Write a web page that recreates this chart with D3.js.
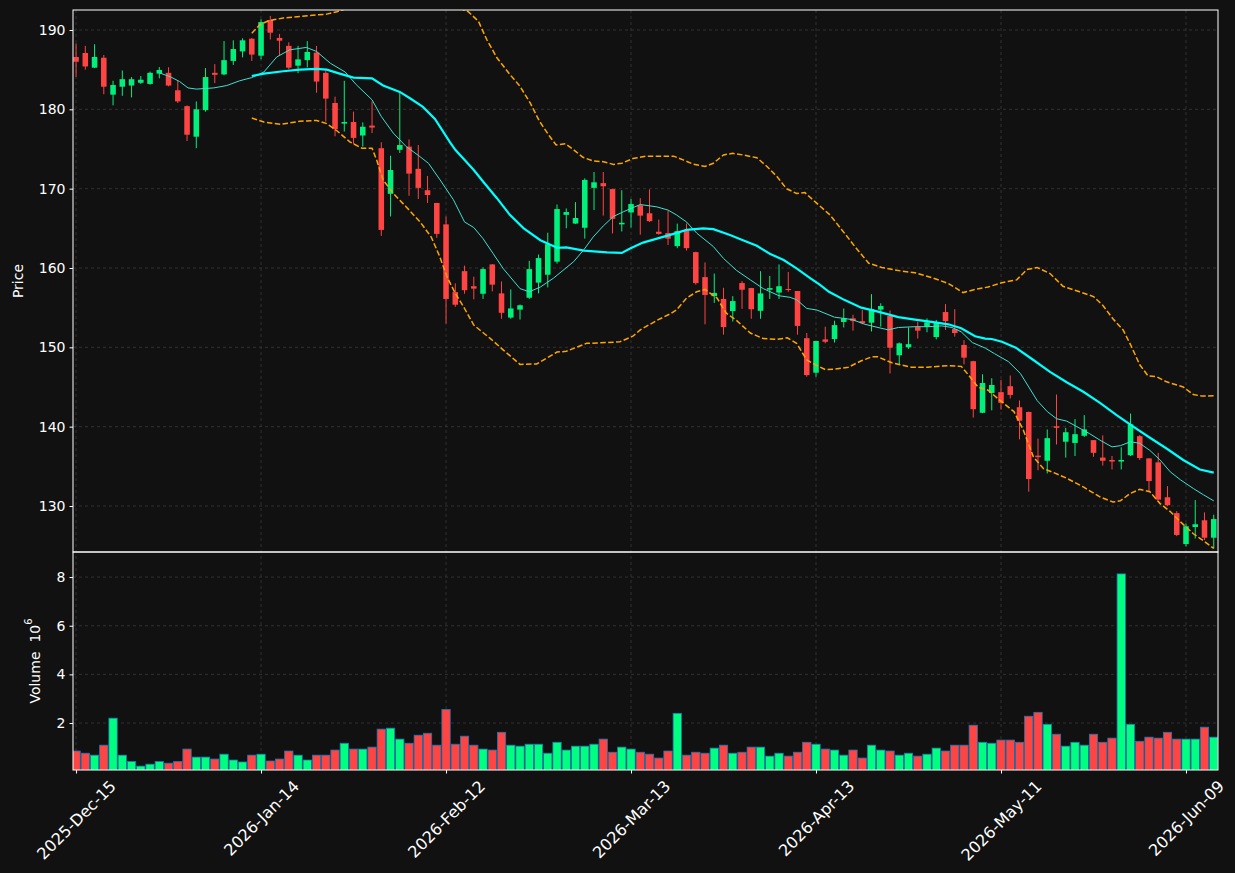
<!DOCTYPE html>
<html>
<head>
<meta charset="utf-8">
<script src="https://cdn.jsdelivr.net/npm/d3@7"></script>
<style>
  html, body { margin: 0; padding: 0; background: #111111; }
  svg text { font-family: "DejaVu Sans", sans-serif; }
</style>
</head>
<body>
<div id="chart"></div>
<script>
const width = 1235
const height = 873

// trading day index of each tick and its label
const tickIdx = [0, 20, 40, 60, 80, 100, 120]
const tickLabels = ["2025-Dec-15", "2026-Jan-14", "2026-Feb-12", "2026-Mar-13", "2026-Apr-13", "2026-May-11", "2026-Jun-09"]

const priceTicks = [130, 140, 150, 160, 170, 180, 190]
const volumeTicks = [2, 4, 6, 8]

// OHLC, one value per trading day (124 days)
const opens = [186.6,187.1,185.25,186.5,181.85,182.85,183.0,183.35,183.2,184.5,
  184.6,182.4,180.4,176.55,179.9,184.6,184.4,186.1,187.3,188.9,
  186.76,191.26,189.0,188.0,185.5,186.2,187.15,184.6,180.8,178.2,
  178.4,176.7,177.95,175.1,169.35,174.9,175.3,172.5,169.8,168.2,
  165.5,156.96,159.6,157.7,156.75,160.45,156.8,153.75,154.75,156.25,
  158.15,159.15,160.8,166.7,165.6,165.07,170.1,170.7,169.95,165.5,
  167.0,167.9,166.9,164.57,164.4,162.76,164.74,162.0,158.85,156.45,
  156.1,154.57,158.1,157.47,154.6,157.26,156.9,157.35,157.1,151.15,
  146.8,151.0,151.05,153.2,153.65,153.3,153.1,154.75,153.95,149.0,
  150.0,152.55,152.6,151.3,154.45,152.3,150.3,148.25,141.75,144.25,
  144.35,145.1,142.45,141.85,136.35,135.7,140.05,138.1,137.95,138.85,
  138.3,136.1,135.8,135.6,136.4,138.8,136.0,135.5,131.1,129.1,
  125.2,127.35,128.2,126.0]
const highs = [188.3,188.0,188.2,186.85,183.6,184.9,184.07,184.2,184.75,185.33,
  185.3,183.6,180.5,181.0,185.2,185.7,188.6,188.7,188.95,189.0,
  191.35,191.77,189.5,188.45,188.0,188.6,188.0,184.95,181.6,183.6,
  179.7,178.35,181.0,175.85,174.15,182.1,176.2,175.5,171.6,168.2,
  166.5,158.06,160.3,158.9,160.07,160.5,158.3,157.3,155.4,160.9,
  161.7,164.45,168.0,167.5,168.3,171.3,172.1,172.1,170.0,169.8,
  168.7,168.8,169.9,166.1,167.2,165.6,165.6,162.05,160.7,159.3,
  157.5,156.45,158.35,157.5,159.6,159.0,160.45,159.5,157.1,151.8,
  150.8,152.6,153.35,154.9,154.1,154.7,156.7,155.55,154.65,150.6,
  152.5,153.25,153.65,153.45,155.45,154.8,150.9,148.3,146.6,146.1,
  145.9,146.45,143.3,141.9,138.5,139.65,144.05,139.85,140.95,141.45,
  138.3,138.9,136.3,137.4,141.65,138.95,136.0,136.7,132.5,129.35,
  127.8,130.75,129.2,128.9]
const lows = [184.1,185.0,185.2,181.9,180.5,181.7,181.5,183.2,183.1,183.9,
  182.9,180.8,176.0,175.1,179.7,183.3,184.3,185.6,186.55,186.1,
  186.3,188.8,186.85,185.05,184.55,185.3,182.1,178.45,176.6,177.2,
  175.6,175.3,177.0,164.05,166.5,174.5,169.1,168.7,168.2,163.8,
  153.0,155.1,156.75,156.05,156.1,157.05,153.6,153.6,153.5,156.1,
  156.8,157.55,160.55,165.0,165.55,163.7,167.3,166.6,164.35,164.6,
  165.1,164.2,165.8,164.2,162.9,162.5,162.2,157.9,152.9,155.6,
  151.6,153.25,154.85,153.6,153.6,156.1,156.1,157.0,151.6,146.3,
  146.3,150.5,150.6,152.5,152.1,152.9,152.0,152.6,146.7,147.75,
  149.8,151.1,151.9,151.0,152.2,151.35,147.85,141.15,141.7,142.05,
  142.15,143.55,138.4,131.8,134.5,134.1,137.75,136.1,136.3,138.7,
  136.2,135.1,134.6,134.6,136.3,135.8,131.8,130.8,130.0,126.2,
  124.9,125.9,125.7,124.65]
const closes = [186.0,185.4,186.6,182.85,183.06,183.8,183.8,183.73,184.6,184.96,
  183.0,181.0,176.8,180.0,184.07,184.35,186.2,187.6,188.7,186.9,
  191.0,189.66,188.65,185.25,186.3,187.23,183.5,181.35,177.5,178.4,
  176.4,177.8,177.7,164.8,172.35,175.5,171.9,170.1,169.2,164.3,
  156.1,155.37,157.2,157.4,159.86,157.9,154.35,154.9,155.3,159.86,
  161.25,163.0,167.43,167.05,166.3,171.1,170.8,170.3,166.2,165.7,
  168.06,166.6,165.9,164.3,163.7,164.65,162.5,158.1,156.6,156.85,
  152.55,155.83,157.26,154.8,156.8,157.47,157.7,157.25,152.7,146.5,
  150.8,150.7,152.8,153.65,153.3,153.05,154.8,155.2,149.95,150.5,
  150.4,152.1,153.15,153.1,153.3,151.8,148.7,142.2,145.5,145.25,
  143.0,144.0,140.75,133.4,136.15,138.55,139.85,139.3,139.05,139.65,
  136.7,135.7,135.6,135.8,140.3,136.05,133.15,130.8,130.1,126.35,
  127.45,127.7,126.0,128.35]

// volume in millions
const volume = [0.85,0.76,0.68,1.09,2.2,0.68,0.42,0.23,0.31,0.42,
  0.35,0.42,0.93,0.6,0.6,0.52,0.72,0.48,0.4,0.68,
  0.72,0.44,0.52,0.85,0.68,0.48,0.68,0.68,0.89,1.17,
  0.93,0.93,1.01,1.75,1.79,1.34,1.17,1.5,1.58,1.09,
  2.56,1.13,1.46,1.09,0.93,0.89,1.62,1.09,1.05,1.13,
  1.13,0.76,1.21,0.89,1.05,1.05,1.13,1.34,0.8,1.01,
  0.93,0.8,0.72,0.56,0.85,2.4,0.68,0.8,0.76,0.97,
  1.09,0.76,0.8,1.01,1.01,0.64,0.76,0.64,0.8,1.21,
  1.13,0.93,0.89,0.68,0.89,0.56,1.09,0.89,0.85,0.68,
  0.76,0.64,0.72,0.97,0.85,1.09,1.09,1.91,1.21,1.17,
  1.3,1.3,1.21,2.28,2.44,1.95,1.54,1.05,1.21,1.09,
  1.54,1.21,1.38,8.13,1.95,1.25,1.42,1.38,1.62,1.34,
  1.34,1.34,1.83,1.42]

// overlay lines: [day index, price]
const ma10 = [[9,184.6],[10.2,184.1],[11.2,183.5],[12.1,182.7],[13,182.55],[14.9,182.7],[16.3,183.0],[17.7,183.6],
  [19,184.0],[20.3,184.7],[21.7,186.6],[23.1,187.5],[24.9,187.8],[26,187.3],[27.5,185.8],[29.1,184.7],
  [30.3,183.1],[32,181.2],[33,179.1],[34.3,177.0],[35.7,175.3],[37,174.2],[38.1,173.2],[39.3,171.2],
  [40.8,168.6],[42,165.8],[43,165.1],[44,163.7],[45.1,161.8],[46.2,159.9],[48,157.4],[49,157.0],
  [50.2,157.6],[51.6,158.7],[53.8,160.8],[54.9,162.3],[55.9,163.9],[57,165.3],[58.1,166.5],[59.2,167.1],
  [61,168.0],[62.8,167.7],[64,167.3],[64.9,166.7],[66,165.8],[67.1,164.4],[68.9,162.7],[70,161.2],
  [71.4,159.7],[72.9,158.5],[74.3,157.4],[76,156.5],[77.2,156.3],[77.9,156.0],[79,154.9],[80.1,154.7],
  [82,153.8],[83.9,153.5],[85.3,152.9],[86.7,152.5],[87.8,152.2],[88.9,152.5],[90.7,152.6],[92.1,152.6],
  [93.6,152.7],[94.7,152.5],[95.7,151.95],[96.9,150.6],[98.3,149.9],[99.3,149.2],[100.8,148.2],[102.1,146.7],
  [103,145.0],[103.9,143.3],[105,141.9],[106,141.0],[107.1,140.7],[108.2,140.0],[109.6,139.1],[110.7,138.3],
  [112,137.45],[112.9,137.6],[114,138.1],[115,137.9],[116.1,137.0],[117.2,135.8],[118.3,134.3],[119.4,133.3],
  [120.8,132.2],[121.9,131.4],[123,130.65]]
const ma20 = [[19,184.2],[20.3,184.5],[22.4,184.8],[24.2,185.0],[26,185.1],[27.1,185.0],[28.5,184.5],[30,184.0],
  [32,183.9],[33.2,183.0],[35,182.2],[36.1,181.4],[37.5,180.3],[38.8,178.8],[40.4,175.9],[41,174.9],
  [43,172.35],[44,170.9],[45.5,168.8],[46.9,166.7],[48.4,165.0],[50.2,163.5],[52,162.55],[53,162.6],
  [54.9,162.2],[57.4,161.97],[59,161.9],[59.9,162.45],[61.3,163.2],[62.8,163.7],[64.6,164.3],[66,164.8],
  [67.8,165.0],[68.9,164.9],[70.7,164.15],[72.1,163.5],[73.6,162.8],[75,161.8],[76.5,161.0],[77.9,159.95],
  [79.4,158.7],[80.4,157.9],[81.4,157.0],[83.1,155.95],[84.9,155.0],[86.7,154.5],[88.9,153.8],[90.7,153.5],
  [92.5,153.2],[94.3,152.9],[95.7,152.4],[97.2,151.4],[98.3,151.1],[99,151.05],[100.1,150.7],[101.6,149.95],
  [103.5,148.4],[105.3,146.9],[107.1,145.6],[108.9,144.4],[110.7,143.0],[112.5,141.45],[114.3,140.0],[116.1,138.6],
  [117.9,137.25],[119.7,135.8],[121.5,134.6],[123,134.2]]
const bandUpper = [[19,189.6],[19.9,190.7],[20.9,191.2],[22.4,191.5],[24.2,191.7],[26,191.9],[27.1,192.0],[28.2,192.3],
  [29,192.6],[30,192.9],[31,193.2],[32,193.5],[33,195.0],[34,195.6],[35,196.0],[36,196.2],[37,195.8],[38,195.2],
  [39,194.5],[40,193.8],[41,193.0],[42.4,192.3],[43.5,191.1],[44.4,188.8],[45.5,186.5],[46.9,184.4],[48,182.9],
  [49.1,180.8],[50.1,178.5],[51.2,176.6],[51.9,175.5],[52.9,175.65],[53.8,174.9],[54.8,173.95],[55.9,173.5],
  [57,173.4],[58.1,173.06],[59,173.2],[60.2,173.8],[61.7,174.1],[64.6,174.1],[65.7,173.6],[66.7,173.1],[68,172.8],
  [68.9,173.2],[70,174.25],[71,174.45],[72.1,174.25],[73.6,173.9],[74.7,172.8],[75.8,171.5],[76.8,170.0],
  [77.9,169.4],[78.8,169.5],[80.1,168.15],[81.5,166.7],[82.8,164.8],[84.2,162.7],[85.7,160.6],[87.1,160.07],
  [89.3,159.6],[90.7,159.4],[92.5,158.8],[94.3,158.05],[95.9,156.9],[97.2,157.3],[98.6,157.6],[100.1,158.15],
  [101.7,158.5],[102.8,159.8],[103.9,160.07],[105.3,159.3],[106.7,157.7],[108.5,157.0],[110,156.4],[111,155.3],
  [112.1,153.6],[113.2,152.2],[114.1,150.1],[115,147.8],[115.9,146.4],[116.8,146.3],[117.9,145.65],[119.7,145.0],
  [120.8,144.05],[121.7,143.85],[123,143.9]]
const bandLower = [[19,178.9],[20.3,178.4],[22.1,178.1],[24.2,178.5],[26,178.6],[27.1,178.2],[28.2,177.3],[29.6,175.9],
  [30.9,175.1],[32,175.1],[32.5,173.6],[33.2,171.1],[34.3,169.4],[35.7,167.7],[37.2,165.8],[38.4,163.9],
  [39.3,161.5],[40.1,158.9],[41,156.8],[41.9,155.1],[43,152.8],[44.8,151.1],[46.2,149.65],[48,147.85],
  [49.8,147.9],[52,149.4],[53,149.5],[55.2,150.5],[57.4,150.6],[58.8,150.7],[60.2,151.4],[61,152.2],
  [62.8,153.4],[64.2,154.2],[64.9,154.7],[66,156.2],[67.1,157.0],[68,157.3],[69.3,156.2],[70.3,154.3],
  [71.4,153.4],[72.9,151.8],[74.3,151.1],[75.8,151.0],[76.9,151.2],[77.9,150.5],[79,148.4],[80.1,147.7],
  [81,147.2],[82,147.25],[83.5,147.5],[84.9,148.3],[86,148.8],[86.7,148.8],[88.2,148.05],[90.3,147.5],
  [92.1,147.5],[94.3,147.7],[95.7,147.6],[96.5,146.5],[97.5,145.0],[98.6,144.6],[99.8,143.4],[101.4,141.9],
  [102.4,139.6],[103.5,136.2],[104.6,134.7],[105.7,134.2],[107.1,133.5],[108.9,132.4],[110.7,131.15],[112.1,130.5],
  [112.9,130.65],[114,131.6],[115,132.1],[116.1,131.8],[117.2,130.3],[118.3,129.3],[119.4,128.0],[120.8,126.5],
  [121.9,125.6],[123,124.65]]

const upColor = "#00f07c"
const downColor = "#ff4444"
const gridColor = "#3a3a3a"
const textColor = "#ffffff"

const plotLeft = 73, plotRight = 1218, plotTop = 10, plotMid = 552, plotBottom = 770

const svg = d3.select("#chart").append("svg")
    .attr("width", width)
    .attr("height", height)
    .style("background-color", "#111111")

const x = d3.scaleLinear().domain([-0.33, 123.46]).range([plotLeft, plotRight])
const yPrice = d3.scaleLinear().domain([124.2, 192.52]).range([plotMid, plotTop])
const yVol = d3.scaleLinear().domain([0.07, 9.03]).range([plotBottom, plotMid])

const days = d3.range(opens.length)
const step = x(1) - x(0)

const defs = svg.append("defs")
defs.append("clipPath").attr("id", "clipPrice")
    .append("rect").attr("x", plotLeft).attr("y", plotTop)
    .attr("width", plotRight - plotLeft).attr("height", plotMid - plotTop)
defs.append("clipPath").attr("id", "clipVol")
    .append("rect").attr("x", plotLeft).attr("y", plotMid)
    .attr("width", plotRight - plotLeft).attr("height", plotBottom - plotMid)

// grid
const grid = svg.append("g")
    .attr("stroke", gridColor)
    .attr("stroke-width", 0.8)
    .attr("stroke-dasharray", "3,3")
grid.selectAll(".vgrid")
    .data(tickIdx)
    .join("line")
    .attr("class", "vgrid")
    .attr("x1", d => x(d)).attr("x2", d => x(d))
    .attr("y1", plotTop).attr("y2", plotBottom)
grid.selectAll(".pgrid")
    .data(priceTicks)
    .join("line")
    .attr("class", "pgrid")
    .attr("x1", plotLeft).attr("x2", plotRight)
    .attr("y1", d => yPrice(d)).attr("y2", d => yPrice(d))
grid.selectAll(".volgrid")
    .data(volumeTicks)
    .join("line")
    .attr("class", "volgrid")
    .attr("x1", plotLeft).attr("x2", plotRight)
    .attr("y1", d => yVol(d)).attr("y2", d => yVol(d))

// candles
const candles = svg.append("g").attr("clip-path", "url(#clipPrice)")
const colorOf = i => closes[i] >= opens[i] ? upColor : downColor

candles.selectAll(".wick")
    .data(days)
    .join("line")
    .attr("class", "wick")
    .attr("x1", i => x(i)).attr("x2", i => x(i))
    .attr("y1", i => yPrice(highs[i])).attr("y2", i => yPrice(lows[i]))
    .attr("stroke", colorOf)
    .attr("stroke-width", 1)

const bodyW = step * 0.6
candles.selectAll(".body")
    .data(days)
    .join("rect")
    .attr("class", "body")
    .attr("x", i => x(i) - bodyW / 2)
    .attr("width", bodyW)
    .attr("y", i => yPrice(Math.max(opens[i], closes[i])))
    .attr("height", i => Math.max(1, Math.abs(yPrice(opens[i]) - yPrice(closes[i]))))
    .attr("fill", colorOf)

// overlays
const line = d3.line().x(d => x(d[0])).y(d => yPrice(d[1]))
const overlays = svg.append("g").attr("clip-path", "url(#clipPrice)").attr("fill", "none")
overlays.append("path").attr("d", line(ma10))
    .attr("stroke", "#40e0d0").attr("stroke-width", 1)
overlays.append("path").attr("d", line(ma20))
    .attr("stroke", "#00ffff").attr("stroke-width", 2.2)
overlays.append("path").attr("d", line(bandUpper))
    .attr("stroke", "#ffa500").attr("stroke-width", 1.5).attr("stroke-dasharray", "5.5,2.4")
overlays.append("path").attr("d", line(bandLower))
    .attr("stroke", "#ffa500").attr("stroke-width", 1.5).attr("stroke-dasharray", "5.5,2.4")

// volume bars
const barW = step * 0.9
svg.append("g").attr("clip-path", "url(#clipVol)")
    .selectAll("rect")
    .data(days)
    .join("rect")
    .attr("x", i => x(i) - barW / 2)
    .attr("width", barW)
    .attr("y", i => yVol(volume[i]))
    .attr("height", i => yVol(0) - yVol(volume[i]))
    .attr("fill", i => closes[i] >= opens[i] ? "#00ff80" : downColor)
    .attr("stroke", "#1f77b4")
    .attr("stroke-width", 0.8)

// frames
svg.append("rect").attr("x", plotLeft).attr("y", plotTop)
    .attr("width", plotRight - plotLeft).attr("height", plotMid - plotTop)
    .attr("fill", "none").attr("stroke", textColor).attr("stroke-width", 1)
svg.append("rect").attr("x", plotLeft).attr("y", plotMid)
    .attr("width", plotRight - plotLeft).attr("height", plotBottom - plotMid)
    .attr("fill", "none").attr("stroke", textColor).attr("stroke-width", 1)

// axes
function styleAxis(g) {
    g.select(".domain").remove()
    g.selectAll(".tick line").attr("stroke", textColor)
    g.selectAll(".tick text").attr("fill", textColor).attr("font-size", 14)
        .attr("font-family", "DejaVu Sans, sans-serif")
}

svg.append("g")
    .attr("transform", `translate(${plotLeft},0)`)
    .call(d3.axisLeft(yPrice).tickValues(priceTicks).tickSize(3.5).tickPadding(4))
    .call(styleAxis)

svg.append("g")
    .attr("transform", `translate(${plotLeft},0)`)
    .call(d3.axisLeft(yVol).tickValues(volumeTicks).tickSize(3.5).tickPadding(4))
    .call(styleAxis)

const xAxis = svg.append("g")
    .attr("transform", `translate(0,${plotBottom})`)
    .call(d3.axisBottom(x).tickValues(tickIdx).tickFormat((d, i) => tickLabels[i]).tickSize(3.5))
    .call(styleAxis)

// labels turned 45 degrees around their centre, box hanging under the tick
xAxis.selectAll(".tick text")
    .attr("font-size", 16)
    .attr("text-anchor", "middle")
    .attr("dy", null)
    .attr("dominant-baseline", "central")
    .each(function () {
        const w = this.getComputedTextLength()
        const half = (w + 18) * Math.SQRT1_2 / 2
        const cy = 7 + half
        d3.select(this).attr("x", 0).attr("y", cy)
            .attr("transform", `rotate(-45,0,${cy})`)
    })

// axis titles
svg.append("text")
    .attr("transform", `translate(18,${(plotTop + plotMid) / 2}) rotate(-90)`)
    .attr("text-anchor", "middle")
    .attr("dominant-baseline", "central")
    .attr("fill", textColor)
    .attr("font-size", 14)
    .text("Price")

const volTitle = svg.append("text")
    .attr("transform", `translate(35,${(plotMid + plotBottom) / 2}) rotate(-90)`)
    .attr("text-anchor", "middle")
    .attr("dominant-baseline", "central")
    .attr("fill", textColor)
    .attr("font-size", 14)
volTitle.append("tspan").text("Volume\u00a0\u00a010")
volTitle.append("tspan").attr("font-size", 10).attr("dy", -7).text("6")
</script>
</body>
</html>
